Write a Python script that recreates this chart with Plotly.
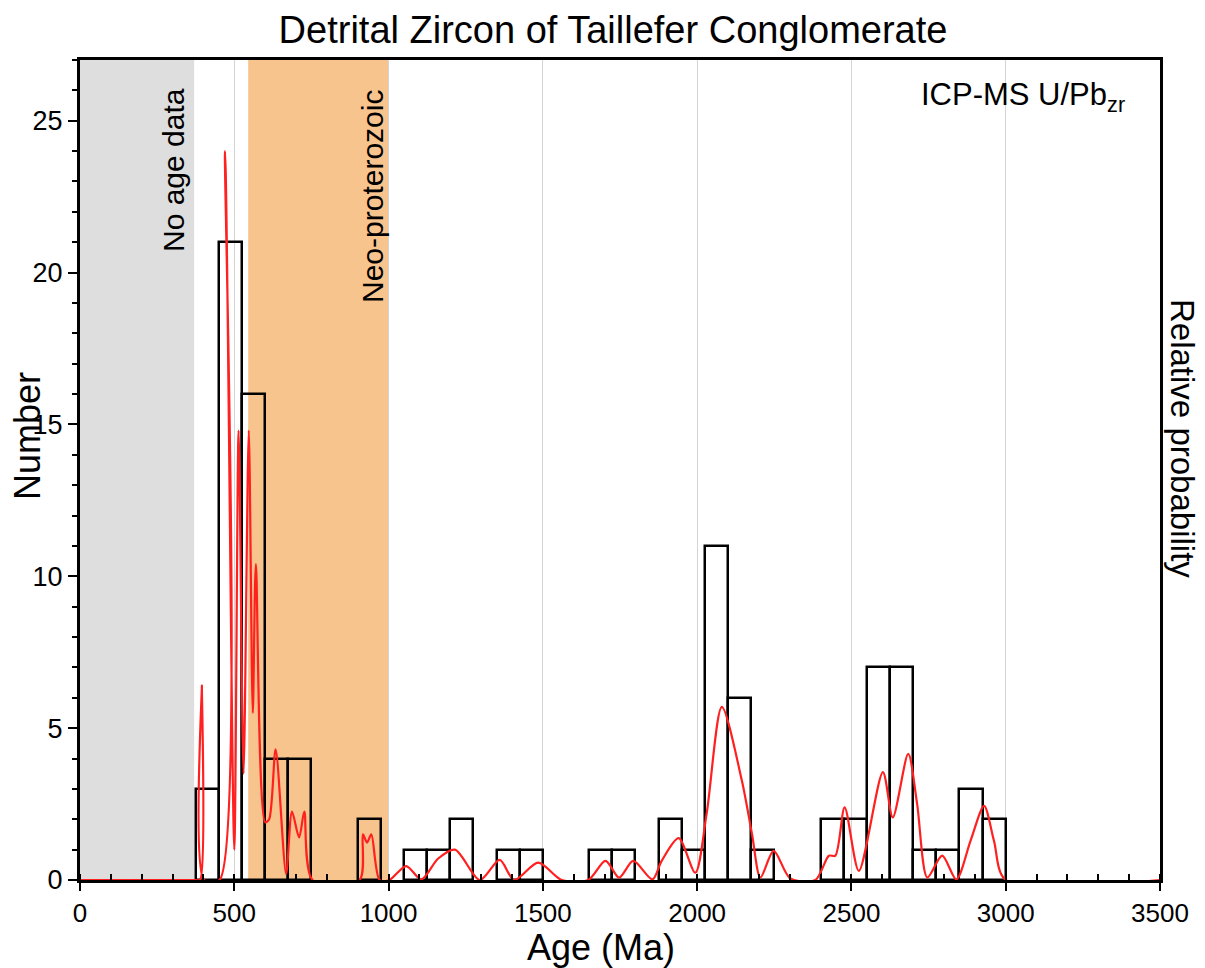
import plotly.graph_objects as go

# Histogram bins (start age, Ma) and counts, bin width 75 Ma
bin_start = [375, 450, 525, 600, 675, 900, 1050, 1125, 1200, 1350, 1425,
             1650, 1725, 1875, 1950, 2025, 2100, 2175, 2400, 2475, 2550,
             2625, 2700, 2775, 2850, 2925]
counts = [3, 21, 16, 4, 4, 2, 1, 1, 2, 1, 1,
          1, 1, 2, 1, 11, 6, 1, 2, 2, 7,
          7, 1, 1, 3, 2]
bin_width = 75

# Relative probability curve (in count-axis units)
prob_age = [0, 375, 389, 395, 402, 452, 470, 500, 514, 530, 547, 560, 570,
            600, 613, 634, 668, 687, 710, 727, 754, 906, 917, 930, 944, 971,
            1003, 1057, 1106, 1160, 1215, 1296, 1360, 1407, 1485, 1561,
            1647, 1703, 1747, 1793, 1855, 1885, 1940, 1994, 2031, 2080,
            2145, 2178, 2205, 2248, 2302, 2383, 2427, 2448, 2478, 2524,
            2602, 2634, 2684, 2713, 2746, 2794, 2840, 2886, 2930, 2962,
            3000, 3500]
prob_val = [0, 0, 0, 6.4, 0, 0, 24.0, 1.0, 14.8, 3.5, 14.8, 5.5, 10.4,
            1.9, 2.0, 4.3, 0.2, 2.25, 1.4, 2.25, 0, 0, 1.5, 1.23, 1.5, 0,
            0, 0.46, 0.02, 0.7, 1.0, 0, 0.66, 0, 0.57, 0,
            0, 0.63, 0.08, 0.63, 0.02, 0.63, 1.38, 0.24, 2.2, 5.7,
            3.27, 1.5, 0.08, 0.96, 0.05, 0, 0.8, 0.8, 2.39, 0.3,
            3.55, 2.06, 4.15, 2.5, 0.08, 0.8, 0.02, 1.29, 2.44, 1.29,
            0, 0]

x_ticks = [0, 500, 1000, 1500, 2000, 2500, 3000, 3500]
y_ticks = [0, 5, 10, 15, 20, 25]

bin_center = [s + bin_width / 2 for s in bin_start]

FONT = "Arial, Liberation Sans, sans-serif"

# page has an 8px body margin: figure starts at (8, 8)
OFF = 8
W, H = 1205 - OFF, 968 - OFF
PL, PR, PT, PB = 80, 1160, 60, 880  # plot area in page pixels


def px(xp):
    return (xp - PL) / (PR - PL)


def py(yp):
    return (PB - yp) / (PB - PT)


fig = go.Figure()
fig.add_trace(go.Bar(
    x=bin_center, y=counts, width=bin_width,
    marker=dict(color="rgba(0,0,0,0)", line=dict(color="black", width=2.5)),
    showlegend=False, hoverinfo="x+y"))
fig.add_trace(go.Scatter(
    x=prob_age, y=prob_val, mode="lines", yaxis="y2",
    line=dict(color="#ff2020", width=2.2, shape="spline", smoothing=0.8),
    showlegend=False))

fig.add_shape(type="rect", xref="x", yref="y", x0=0, x1=370, y0=0, y1=27,
              fillcolor="#dedede", line=dict(width=0), layer="below")
fig.add_shape(type="rect", xref="x", yref="y", x0=545, x1=1000, y0=0, y1=27,
              fillcolor="#f8c48e", line=dict(width=0), layer="below")

fig.update_layout(
    width=W, height=H,
    margin=dict(l=PL - OFF, r=W - (PR - OFF), t=PT - OFF, b=H - (PB - OFF),
                autoexpand=False),
    plot_bgcolor="white", paper_bgcolor="white",
    font=dict(family=FONT, color="black"),
    bargap=0,
    title=dict(text="Detrital Zircon of Taillefer Conglomerate",
               x=(613 - OFF) / W, xanchor="center",
               y=1 - (30 - OFF) / H, yanchor="middle",
               font=dict(size=38, family=FONT, color="black")),
    xaxis=dict(range=[0, 3500], tickvals=x_ticks, ticks="outside", ticklen=8,
               tickwidth=2, tickcolor="black", showline=True, linewidth=3,
               linecolor="black", mirror=True, showgrid=True,
               gridcolor="#d4d4d4", gridwidth=1, zeroline=False,
               tickfont=dict(size=26),
               minor=dict(dtick=100, ticks="inside", ticklen=6, tickwidth=2,
                          tickcolor="black", showgrid=False)),
    yaxis=dict(range=[0, 27], tickvals=y_ticks, ticks="outside", ticklen=9,
               tickwidth=2, tickcolor="black", showline=True, linewidth=3,
               linecolor="black", mirror=True, showgrid=False, zeroline=False,
               tickfont=dict(size=27),
               minor=dict(dtick=1, ticks="outside", ticklen=5, tickwidth=2,
                          tickcolor="black", showgrid=False)),
    yaxis2=dict(range=[0, 27], overlaying="y", side="right",
                showticklabels=False, showgrid=False, zeroline=False,
                ticks="", showline=False),
    annotations=[
        dict(text="Age (Ma)", xref="paper", yref="paper",
             x=px(601), y=py(947),
             xanchor="center", yanchor="middle", showarrow=False,
             font=dict(size=36)),
        dict(text="Number", xref="paper", yref="paper",
             x=px(28), y=py(436), textangle=-90,
             xanchor="center", yanchor="middle", showarrow=False,
             font=dict(size=36)),
        dict(text="Relative probability", xref="paper", yref="paper",
             x=px(1183), y=py(438), textangle=90,
             xanchor="center", yanchor="middle", showarrow=False,
             font=dict(size=33)),
        dict(text="No age data", xref="paper", yref="paper",
             x=px(173), y=py(170), textangle=-90,
             xanchor="center", yanchor="middle", showarrow=False,
             font=dict(size=30)),
        dict(text="Neo-proterozoic", xref="paper", yref="paper",
             x=px(372), y=py(197), textangle=-90,
             xanchor="center", yanchor="middle", showarrow=False,
             font=dict(size=30)),
        dict(text="ICP-MS U/Pb<sub>zr</sub>", xref="paper", yref="paper",
             x=px(1127), y=py(97),
             xanchor="right", yanchor="middle", showarrow=False,
             font=dict(size=31)),
    ],
)

fig.write_html("out.html")
